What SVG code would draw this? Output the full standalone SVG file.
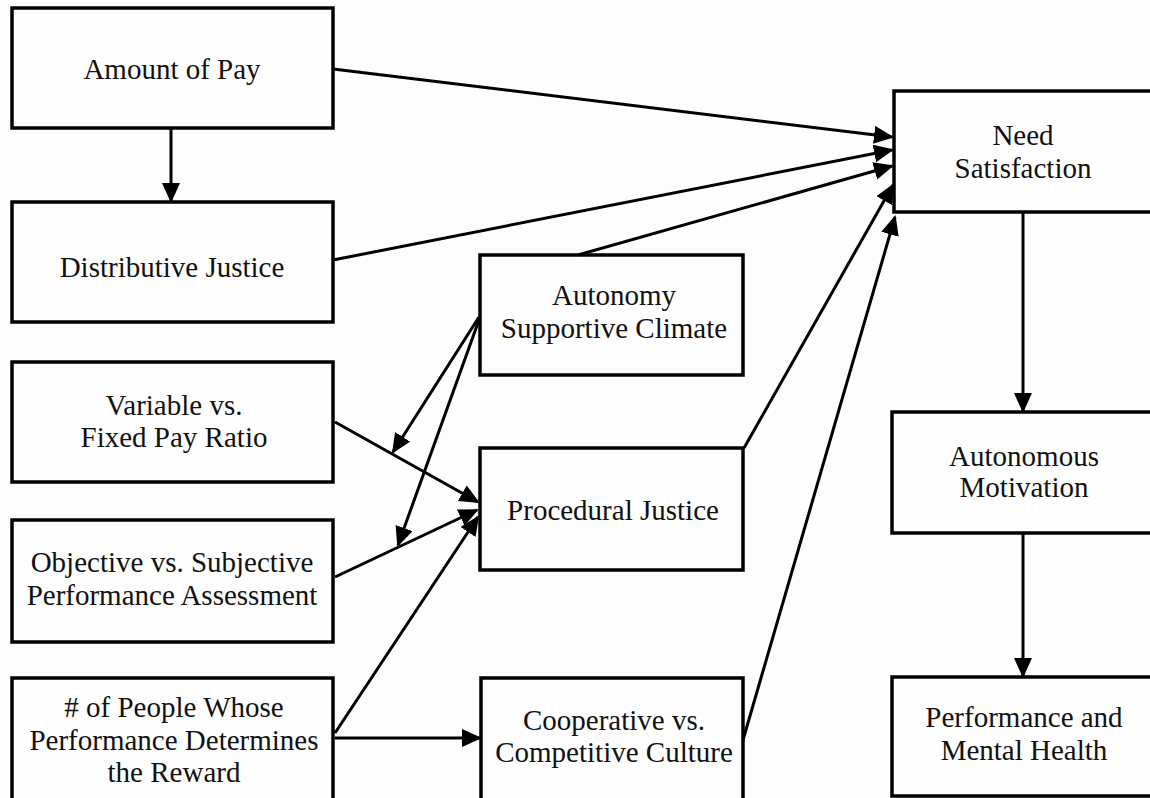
<svg xmlns="http://www.w3.org/2000/svg" width="1150" height="798" viewBox="0 0 1150 798">
<style>
.box{fill:none;stroke:#000;stroke-width:3.5}
.lbl{font-family:"Liberation Serif","Times New Roman",serif;font-size:29px;fill:#111;text-anchor:middle}
.c{fill:none;stroke:#000;stroke-width:3;marker-end:url(#ah)}
</style>
<defs>
<marker id="ah" markerUnits="userSpaceOnUse" markerWidth="22" markerHeight="20" refX="18" refY="9" orient="auto">
<path d="M0,0 L20,9 L0,18 z" fill="#000"/>
</marker>
</defs>
<rect width="1150" height="798" fill="#fdfdfd"/>
<g id="amount"><rect class="box" x="12" y="8" width="321" height="120"/><text class="lbl" x="172" y="79">Amount of Pay</text></g>
<g id="distributive"><rect class="box" x="12" y="202" width="321" height="120"/><text class="lbl" x="172" y="277">Distributive Justice</text></g>
<g id="variable"><rect class="box" x="12" y="362" width="321" height="120"/><text class="lbl" x="174" y="415">Variable vs.</text><text class="lbl" x="174" y="447">Fixed Pay Ratio</text></g>
<g id="objective"><rect class="box" x="12" y="520" width="321" height="122"/><text class="lbl" x="172" y="572">Objective vs. Subjective</text><text class="lbl" x="172" y="605">Performance Assessment</text></g>
<g id="people"><rect class="box" x="12" y="678" width="321" height="130"/><text class="lbl" x="174" y="717"># of People Whose</text><text class="lbl" x="174" y="750">Performance Determines</text><text class="lbl" x="174" y="782">the Reward</text></g>
<g id="autonomy"><rect class="box" x="480" y="255" width="263" height="120"/><text class="lbl" x="614" y="305">Autonomy</text><text class="lbl" x="614" y="338">Supportive Climate</text></g>
<g id="procedural"><rect class="box" x="480" y="448" width="263" height="122"/><text class="lbl" x="613" y="520">Procedural Justice</text></g>
<g id="cooperative"><rect class="box" x="481" y="678" width="262" height="130"/><text class="lbl" x="614" y="730">Cooperative vs.</text><text class="lbl" x="614" y="762">Competitive Culture</text></g>
<g id="need"><rect class="box" x="894" y="91" width="262" height="121"/><text class="lbl" x="1023" y="145">Need</text><text class="lbl" x="1023" y="178">Satisfaction</text></g>
<g id="autonomous"><rect class="box" x="892" y="412" width="264" height="121"/><text class="lbl" x="1024" y="466">Autonomous</text><text class="lbl" x="1024" y="497">Motivation</text></g>
<g id="performance"><rect class="box" x="892" y="677" width="264" height="119"/><text class="lbl" x="1024" y="727">Performance and</text><text class="lbl" x="1024" y="760">Mental Health</text></g>
<g id="connectors">
<line class="c" x1="333" y1="69" x2="892" y2="137"/>
<line class="c" x1="333" y1="260" x2="892" y2="150"/>
<line class="c" x1="578" y1="255" x2="892" y2="166"/>
<line class="c" x1="744" y1="448" x2="893" y2="185"/>
<line class="c" x1="743" y1="740" x2="895" y2="217"/>
<line class="c" x1="1023" y1="212" x2="1023" y2="411"/>
<line class="c" x1="1023" y1="533" x2="1023" y2="676"/>
<line class="c" x1="171" y1="128" x2="171" y2="201"/>
<line class="c" x1="335" y1="422" x2="478" y2="502"/>
<line class="c" x1="335" y1="577" x2="477" y2="510"/>
<line class="c" x1="335" y1="733" x2="478" y2="517"/>
<line class="c" x1="335" y1="738" x2="480" y2="738"/>
<line class="c" x1="479" y1="317" x2="393" y2="452"/>
<line class="c" x1="479" y1="320" x2="398" y2="545"/>
</g>
</svg>
